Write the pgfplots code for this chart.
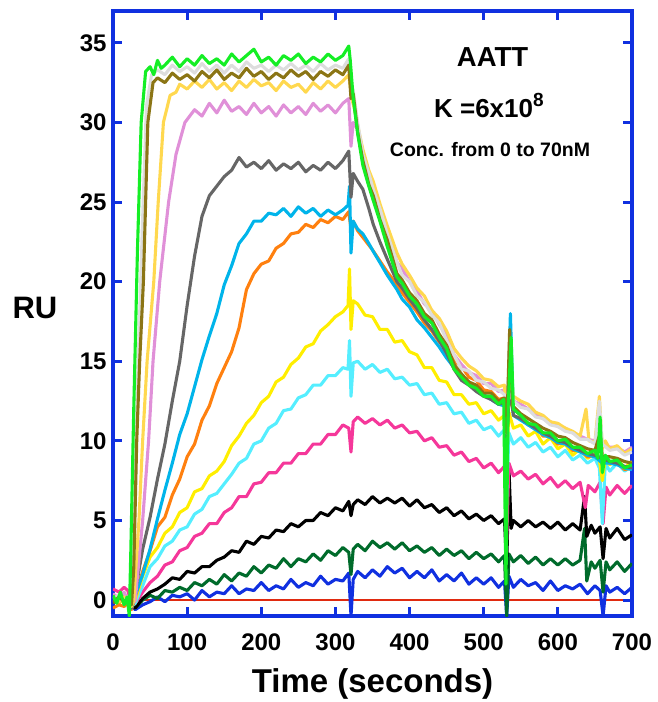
\documentclass[border=0pt]{standalone}
\usepackage{pgfplots}
\pgfplotsset{compat=1.18}
\usepackage{fontspec}
\setmainfont{Liberation Sans}
\definecolor{axblue}{HTML}{1030E0}
\definecolor{cred}{HTML}{E02A10}
\definecolor{cblue}{HTML}{1030E0}
\definecolor{cdkgreen}{HTML}{006B2B}
\definecolor{cpink}{HTML}{F5379A}
\definecolor{ccyan}{HTML}{55EEFF}
\definecolor{cyellow}{HTML}{FFEE00}
\definecolor{corange}{HTML}{FF800F}
\definecolor{csky}{HTML}{00B4EA}
\definecolor{cgray}{HTML}{666666}
\definecolor{cplum}{HTML}{E090D8}
\definecolor{cgold}{HTML}{FFD84F}
\definecolor{clgray}{HTML}{DDDDDD}
\definecolor{colive}{HTML}{8B7515}
\definecolor{cgreen}{HTML}{15EE25}
\begin{document}
\begin{tikzpicture}
\path[use as bounding box] (-113pt,-86pt) rectangle (544pt,616pt);
\begin{axis}[
  at={(0,0)}, anchor=south west,
  scale only axis, width=519pt, height=605pt,
  xmin=0, xmax=700, ymin=-1, ymax=37,
  xtick={0,100,...,700}, ytick={0,5,...,35},
  tick align=inside, major tick length=9pt,
  axis line style={axblue, line width=3.8pt},
  tick style={axblue, line width=3pt},
  tick label style={font=\fontsize{24}{24}\selectfont\bfseries},
  xticklabel style={yshift=-14pt},
  yticklabel style={xshift=-3pt},
  /pgf/number format/assume math mode=true,
  xlabel={Time (seconds)}, ylabel={RU},
  every axis x label/.style={at={(axis description cs:0.5,0)}, anchor=center, yshift=-68pt, font=\fontsize{33}{33}\selectfont\bfseries},
  every axis y label/.style={at={(axis description cs:0,0.5)}, anchor=center, xshift=-78pt, yshift=6pt, font=\fontsize{31}{31}\selectfont\bfseries},
  every axis plot/.append style={line width=3.1pt, line join=round, no markers},
]
% red baseline
\addplot[cred, line width=2.4pt] coordinates {(25,0)(688,0)};
% blue
\addplot[cblue] coordinates {(0,0.1)(8,-0.2)(15,0.3)(20,0.0)(25,-0.4)(30,-0.6)(40,-0.3)(50,-0.1)(60,0.2)(70,-0.1)(80,0.3)(90,0.2)(100,0.4)(110,0.0)(120,0.6)(130,0.2)(140,0.5)(150,0.4)(160,0.9)(170,0.4)(180,0.7)(190,0.6)(200,1.1)(210,0.6)(220,0.9)(230,0.7)(240,1.3)(250,0.8)(260,1.1)(270,0.9)(280,1.5)(290,1.0)(300,1.3)(310,1.2)(318,1.7)(321,-1.0)(324,1.3)(330,1.8)(340,1.4)(350,1.9)(360,1.5)(370,2.1)(380,1.7)(390,2.0)(400,1.4)(410,1.8)(420,1.4)(430,1.9)(440,1.2)(450,1.6)(460,1.2)(470,1.7)(480,1.0)(490,1.4)(500,1.0)(510,1.4)(520,0.8)(528,1.2)(531,-1.0)(534,1.5)(540,0.8)(550,1.3)(560,0.9)(570,1.1)(580,0.6)(590,1.2)(600,0.6)(610,0.9)(620,0.7)(630,1.0)(640,0.4)(650,0.9)(657,0.6)(661,-1.0)(665,0.9)(670,0.5)(680,0.8)(690,0.4)(700,0.8)};
% dark green
\addplot[cdkgreen] coordinates {(0,0.2)(8,-0.2)(15,0.3)(20,0.0)(25,-0.3)(30,-0.5)(40,0.0)(50,0.3)(60,0.1)(70,0.6)(80,0.5)(90,0.8)(100,0.6)(110,1.1)(120,0.9)(130,1.3)(140,1.0)(150,1.6)(160,1.2)(170,1.7)(180,1.5)(190,2.1)(200,1.7)(210,2.2)(220,2.0)(230,2.6)(240,2.1)(250,2.6)(260,2.4)(270,2.9)(280,2.5)(290,3.1)(300,2.8)(310,3.3)(318,3.0)(321,1.6)(324,3.2)(330,3.5)(340,3.1)(350,3.7)(360,3.3)(370,3.6)(380,3.2)(390,3.6)(400,3.1)(410,3.4)(420,3.0)(430,3.3)(440,2.8)(450,3.2)(460,2.8)(470,3.1)(480,2.6)(490,3.0)(500,2.6)(510,2.9)(520,2.4)(528,2.8)(531,-1.0)(534,2.9)(540,2.4)(550,2.8)(560,2.3)(570,2.7)(580,2.2)(590,2.6)(600,2.2)(610,2.6)(620,2.2)(630,2.5)(636,4.5)(639,1.2)(645,2.4)(650,2.0)(657,2.5)(661,0.5)(665,2.4)(670,1.9)(680,2.4)(690,1.8)(700,2.3)};
% black
\addplot[black] coordinates {(0,0.0)(8,0.2)(15,-0.1)(20,0.1)(25,-0.4)(30,-0.5)(40,0.1)(50,0.5)(60,0.7)(70,1.0)(80,1.4)(90,1.3)(100,1.8)(110,1.7)(120,2.1)(130,2.1)(140,2.5)(150,2.7)(160,3.1)(170,3.0)(180,3.7)(190,3.5)(200,4.0)(210,3.9)(220,4.4)(230,4.3)(240,4.8)(250,4.6)(260,5.0)(270,5.0)(280,5.5)(290,5.3)(300,5.8)(310,5.6)(318,6.2)(321,5.3)(324,6.0)(330,6.3)(340,6.0)(350,6.5)(360,6.1)(370,6.4)(380,6.1)(390,6.4)(400,5.9)(410,6.3)(420,5.8)(430,6.0)(440,5.5)(450,5.8)(460,5.3)(470,5.6)(480,5.1)(490,5.4)(500,5.0)(510,5.3)(520,4.8)(528,5.1)(531,2.0)(534,8.3)(537,4.5)(540,5.0)(550,4.6)(560,5.0)(570,4.6)(580,4.9)(590,4.5)(600,4.9)(610,4.4)(620,4.8)(630,4.4)(636,6.5)(639,4.0)(645,4.7)(650,4.2)(657,4.6)(661,2.6)(665,4.5)(670,3.9)(680,4.5)(690,3.8)(700,4.1)};
% pink
\addplot[cpink] coordinates {(0,0.7)(8,0.5)(15,0.8)(20,0.6)(25,-0.3)(30,-0.2)(40,0.5)(50,1.1)(60,1.5)(70,2.2)(80,2.4)(90,3.1)(100,3.3)(110,4.0)(120,4.2)(130,4.8)(140,4.8)(150,5.5)(160,5.8)(170,6.5)(180,6.5)(190,7.3)(200,7.4)(210,8.0)(220,8.0)(230,8.6)(240,8.6)(250,9.2)(260,9.2)(270,9.8)(280,9.8)(290,10.4)(300,10.4)(310,11.0)(318,10.8)(321,9.3)(324,11.2)(330,11.5)(340,11.1)(350,11.4)(360,11.0)(370,11.3)(380,10.8)(390,11.0)(400,10.5)(410,10.6)(420,10.0)(430,10.2)(440,9.6)(450,9.7)(460,9.1)(470,9.3)(480,8.7)(490,8.9)(500,8.3)(510,8.6)(520,8.0)(528,8.4)(531,3.8)(534,8.6)(540,7.8)(550,8.1)(560,7.6)(570,7.9)(580,7.3)(590,7.7)(600,7.1)(610,7.5)(620,7.0)(630,7.4)(637,5.8)(641,7.2)(650,6.8)(657,7.4)(661,4.8)(665,7.1)(670,6.6)(680,7.2)(690,6.7)(700,7.2)};
% cyan
\addplot[ccyan] coordinates {(0,0.3)(8,0.0)(15,0.2)(20,0.1)(25,-0.4)(30,-0.2)(40,0.9)(50,2.1)(60,2.6)(70,3.4)(80,3.7)(90,4.4)(100,4.6)(110,5.4)(120,5.7)(130,6.5)(140,6.7)(150,7.3)(160,7.9)(170,8.6)(180,8.9)(190,9.8)(200,10.0)(210,10.8)(220,11.1)(230,11.9)(240,12.0)(250,12.7)(260,12.9)(270,13.5)(280,13.5)(290,14.1)(300,14.1)(310,14.6)(317,14.5)(319,16.3)(321,12.8)(324,14.9)(330,15.0)(340,14.5)(350,14.8)(360,14.3)(370,14.5)(380,13.9)(390,14.0)(400,13.5)(410,13.6)(420,12.9)(430,13.0)(440,12.3)(450,12.4)(460,11.7)(470,11.8)(480,11.1)(490,11.3)(500,10.7)(510,10.9)(520,10.3)(528,10.7)(531,6.5)(534,10.5)(540,9.8)(550,10.2)(560,9.6)(570,9.9)(580,9.3)(590,9.6)(600,9.0)(610,9.4)(620,8.8)(630,9.1)(640,8.6)(650,8.9)(656,8.3)(660,4.8)(664,8.6)(670,8.1)(680,8.6)(690,8.1)(700,8.4)};
% yellow
\addplot[cyellow] coordinates {(0,0.0)(8,-0.2)(15,0.1)(20,0.2)(25,-0.4)(30,0.0)(40,1.5)(50,2.7)(60,3.3)(70,4.2)(80,4.6)(90,5.5)(100,5.8)(110,6.8)(120,7.0)(130,7.8)(140,8.1)(150,8.7)(160,9.7)(170,10.3)(180,11.1)(190,11.6)(200,12.4)(210,12.8)(220,13.7)(230,14.0)(240,14.8)(250,15.2)(260,15.9)(270,16.1)(280,16.9)(290,17.3)(300,17.8)(310,18.1)(317,18.5)(319,20.8)(321,17.0)(324,18.8)(330,18.6)(340,17.9)(350,17.8)(360,17.0)(370,17.0)(380,16.2)(390,16.3)(400,15.6)(410,15.4)(420,14.6)(430,14.6)(440,13.8)(450,13.7)(460,12.9)(470,12.9)(480,12.3)(490,12.4)(500,11.7)(510,11.9)(520,11.3)(528,11.6)(531,9.0)(534,11.8)(540,10.8)(550,11.0)(560,10.3)(570,10.6)(580,9.8)(590,10.2)(600,9.5)(610,9.8)(620,9.1)(630,9.5)(640,8.9)(650,9.2)(656,8.8)(660,7.5)(664,8.9)(670,8.5)(680,8.9)(690,8.3)(700,8.7)};
% orange
\addplot[corange] coordinates {(0,-0.5)(8,-0.3)(15,-0.4)(20,-0.2)(25,-0.6)(30,0.2)(40,1.8)(50,3.1)(60,4.6)(70,5.2)(80,6.6)(90,7.6)(100,9.0)(110,9.8)(120,11.3)(130,12.2)(140,13.6)(150,14.6)(160,15.6)(170,17.1)(180,19.5)(190,20.5)(200,21.1)(210,21.3)(220,22.1)(230,22.4)(240,23.0)(250,23.1)(260,23.6)(270,23.4)(280,23.9)(290,23.7)(300,24.1)(310,23.9)(318,24.4)(321,23.3)(324,23.8)(330,23.2)(340,22.6)(350,22.0)(360,21.3)(370,20.6)(380,20.0)(390,19.3)(400,18.7)(410,18.1)(420,17.4)(430,16.9)(440,16.2)(450,15.8)(460,15.0)(470,14.7)(480,14.0)(490,13.8)(500,13.2)(510,13.1)(520,12.6)(528,12.7)(531,10.0)(534,12.8)(540,12.0)(550,11.6)(560,11.0)(570,10.9)(580,10.3)(590,10.3)(600,9.8)(610,9.9)(620,9.4)(630,9.4)(640,9.0)(650,9.1)(660,8.7)(670,8.6)(680,8.6)(690,8.2)(700,8.3)};
% sky blue
\addplot[csky] coordinates {(0,0.1)(8,-0.1)(15,0.2)(20,0.0)(25,-0.5)(30,0.3)(40,1.6)(50,3.2)(60,5.1)(70,6.9)(80,8.6)(90,10.4)(100,11.7)(110,13.4)(120,15.1)(130,16.6)(140,18.0)(150,19.8)(160,21.0)(170,22.4)(180,23.0)(190,23.8)(200,23.8)(210,24.3)(220,24.2)(230,24.6)(240,24.1)(250,24.7)(260,24.3)(270,24.6)(280,24.1)(290,24.5)(300,24.2)(310,24.5)(317,24.8)(319,26.0)(321,21.8)(324,23.8)(330,23.3)(337,23.0)(345,22.4)(351,21.9)(360,21.2)(370,20.4)(383,19.5)(390,18.9)(400,18.4)(410,17.6)(420,17.1)(430,16.5)(440,15.9)(450,15.2)(460,14.6)(470,14.1)(480,13.7)(490,13.3)(500,12.9)(510,12.6)(520,12.3)(528,12.2)(531,9.5)(536,18.0)(540,11.6)(550,11.3)(560,11.0)(570,10.7)(580,10.4)(590,10.2)(600,9.9)(610,9.8)(620,9.5)(630,9.3)(640,9.1)(650,9.0)(660,8.6)(670,8.6)(680,8.5)(690,8.3)(700,8.2)};
% gray
\addplot[cgray] coordinates {(0,0.0)(8,0.2)(15,-0.1)(20,0.1)(25,-0.5)(30,0.5)(40,3.2)(50,5.2)(60,7.6)(70,9.8)(80,12.5)(90,15.0)(100,18.5)(110,21.6)(120,24.1)(130,25.4)(140,26.0)(150,26.6)(160,27.0)(170,27.8)(180,27.2)(190,27.5)(200,27.1)(210,27.6)(220,27.0)(230,27.4)(240,27.1)(250,27.5)(260,26.9)(270,27.3)(280,27.0)(290,27.5)(300,27.1)(310,27.6)(318,28.2)(321,25.3)(324,26.8)(330,26.3)(337,25.8)(345,24.6)(351,23.6)(360,22.5)(370,21.4)(383,20.0)(390,19.6)(400,18.9)(410,18.3)(420,17.6)(430,17.0)(440,16.3)(450,15.5)(460,14.5)(470,13.8)(480,13.5)(490,13.1)(500,12.8)(510,12.6)(520,12.3)(528,12.4)(531,10.0)(535,13.5)(540,11.6)(550,11.4)(560,11.1)(570,10.8)(580,10.5)(590,10.3)(600,10.0)(610,9.9)(620,9.6)(630,9.4)(640,9.2)(650,9.1)(660,8.9)(670,8.7)(680,8.6)(690,8.4)(700,8.3)};
% plum
\addplot[cplum] coordinates {(0,0.4)(8,0.1)(15,0.5)(20,0.0)(25,-0.3)(30,0.0)(36,3)(40,5)(48,10)(54,15)(63,20)(75,25)(85,28)(97,30)(110,30.8)(120,30.4)(130,31.2)(140,30.6)(150,31.4)(160,30.7)(170,31.0)(180,30.5)(190,31.2)(200,30.6)(210,31.0)(220,30.4)(230,31.1)(240,30.6)(250,31.0)(260,30.5)(270,31.2)(280,30.7)(290,31.1)(300,30.6)(310,31.2)(318,31.5)(321,28.5)(324,30.0)(330,29.6)(337,27.9)(345,26.9)(351,25.8)(360,24.6)(370,23.2)(383,21.2)(390,20.8)(400,20.0)(410,19.4)(420,18.6)(430,18.2)(440,17.3)(450,16.6)(460,15.4)(470,14.8)(480,14.3)(490,14.1)(500,13.6)(510,13.6)(520,13.1)(528,13.2)(531,11.5)(534,13.0)(540,12.5)(550,12.3)(560,12.0)(570,11.7)(580,11.4)(590,11.2)(600,10.9)(610,10.8)(620,10.5)(630,10.3)(640,10.1)(650,10.0)(660,9.8)(670,9.6)(680,9.6)(690,9.3)(700,9.6)};
% gold
\addplot[cgold] coordinates {(0,0.2)(8,-0.1)(15,0.2)(20,-0.2)(25,-0.4)(28,0.0)(35,5)(40,10)(46,15)(55,20)(61,25)(68,30)(77,31.7)(85,31.9)(90,32.4)(100,32.1)(110,32.6)(120,32.2)(130,32.7)(140,32.1)(150,32.5)(160,32.0)(170,32.6)(180,32.2)(190,32.7)(200,32.3)(210,32.5)(220,32.0)(230,32.6)(240,32.2)(250,32.4)(260,31.9)(270,32.5)(280,32.1)(290,32.6)(300,32.2)(310,32.6)(318,33.0)(322,31.5)(326,30.8)(330,29.8)(337,28.3)(345,27.0)(351,26.3)(360,24.9)(370,23.5)(383,21.8)(390,21.1)(400,20.4)(410,19.6)(420,19.1)(430,18.2)(440,17.7)(450,16.9)(460,15.8)(470,15.2)(480,14.7)(490,14.4)(500,13.9)(510,13.8)(520,13.4)(528,13.5)(531,11.0)(535,14.2)(540,12.8)(550,12.5)(560,12.3)(570,11.8)(580,11.6)(590,11.2)(600,11.1)(610,10.8)(620,10.6)(630,10.3)(638,12.0)(642,10.0)(650,9.9)(656,12.8)(660,9.5)(664,10.0)(670,9.5)(680,9.7)(690,9.2)(700,9.5)};
% light gray
\addplot[clgray] coordinates {(0,0.1)(8,0.3)(15,-0.1)(20,0.2)(25,-0.2)(28,3)(32,12)(36,18)(40,24)(45,31)(52,33.0)(60,33.3)(70,33.0)(80,33.6)(90,33.2)(100,33.5)(110,33.1)(120,33.7)(130,33.2)(140,33.6)(150,33.1)(160,33.6)(170,33.2)(180,33.8)(190,33.4)(200,33.6)(210,33.2)(220,33.6)(230,33.3)(240,33.7)(250,33.3)(260,33.6)(270,33.2)(280,33.7)(290,33.3)(300,33.6)(310,33.4)(318,34.0)(321,32.5)(324,32.0)(330,30.0)(337,28.0)(345,26.8)(351,25.8)(360,24.6)(370,23.0)(383,21.2)(390,20.4)(400,20.0)(410,19.1)(420,18.7)(430,17.9)(440,17.4)(450,16.3)(460,15.4)(470,14.5)(480,14.4)(490,13.8)(500,13.7)(510,13.3)(520,13.2)(528,12.9)(531,10.5)(535,16.5)(540,12.5)(550,12.1)(560,12.0)(570,11.5)(580,11.4)(590,11.0)(600,10.9)(610,10.6)(620,10.5)(630,10.1)(640,10.1)(650,9.8)(656,12.5)(660,9.8)(670,9.4)(680,9.5)(690,9.1)(700,9.3)};
% olive
\addplot[colive] coordinates {(0,-0.2)(8,0.2)(15,-0.1)(20,0.1)(25,-0.3)(28,2)(32,10)(36,15)(41,20)(47,30)(54,32.5)(60,32.8)(70,32.5)(80,33.1)(90,32.7)(100,33.0)(110,32.6)(120,33.2)(130,32.8)(140,33.3)(150,32.7)(160,33.1)(170,32.8)(180,33.4)(190,32.9)(200,33.2)(210,32.7)(220,33.1)(230,32.8)(240,33.3)(250,32.9)(260,33.2)(270,32.7)(280,33.2)(290,32.9)(300,33.3)(310,33.0)(318,33.6)(321,31.5)(324,31.8)(330,29.4)(337,27.6)(345,26.1)(351,25.4)(360,23.9)(370,22.6)(383,20.5)(390,20.1)(400,19.3)(410,18.8)(420,18.0)(430,17.6)(440,16.7)(450,16.0)(460,14.8)(470,14.2)(480,13.7)(490,13.5)(500,13.0)(510,13.0)(520,12.5)(528,12.7)(531,10.5)(535,17.0)(539,12.2)(550,11.7)(560,11.4)(570,11.1)(580,10.8)(590,10.6)(600,10.3)(610,10.2)(620,9.9)(630,9.7)(640,9.5)(650,9.4)(657,10.5)(660,9.0)(670,9.0)(680,8.9)(690,8.7)(700,8.6)};
% green
\addplot[cgreen] coordinates {(0,0.3)(5,-0.2)(10,0.5)(15,-0.3)(19,0.2)(22,-1.0)(24,3.0)(28,12)(33,22)(38,30)(44,33.2)(50,33.5)(55,33.0)(60,33.9)(65,33.4)(70,33.6)(80,34.1)(90,33.5)(100,34.0)(110,33.6)(120,34.2)(130,33.7)(140,34.0)(150,33.6)(160,34.3)(170,33.8)(180,34.2)(190,34.6)(200,33.8)(210,34.1)(220,33.6)(230,34.2)(240,33.9)(250,34.3)(260,33.7)(270,34.1)(280,33.8)(290,34.3)(300,33.9)(310,34.2)(318,34.8)(320,33.9)(324,31.5)(330,29.3)(337,27.3)(345,26.0)(351,25.1)(360,23.8)(370,22.2)(383,20.3)(390,19.9)(400,19.1)(410,18.6)(420,17.8)(430,17.4)(440,16.5)(450,15.8)(460,14.5)(470,14.0)(480,13.5)(490,13.3)(500,12.8)(510,12.8)(520,12.3)(527,12.6)(530,1.0)(533,12.2)(537,16.5)(540,12.0)(550,11.6)(560,11.1)(570,11.0)(580,10.5)(590,10.5)(600,10.0)(610,10.1)(620,9.6)(630,9.6)(640,9.2)(650,9.4)(654,8.9)(657,11.5)(660,8.0)(664,9.1)(670,8.7)(680,8.8)(690,8.3)(700,8.5)};
\node[font=\fontsize{27.5}{27.5}\selectfont\bfseries, anchor=base] at (axis cs:512,33.52) {AATT};
\node[font=\fontsize{26}{26}\selectfont\bfseries, anchor=base] at (axis cs:507,30.28) {K =6x10\raisebox{11pt}{\fontsize{19}{19}\selectfont 8}};
\node[font=\fontsize{19.5}{19.5}\selectfont\bfseries, anchor=base] at (axis cs:508.5,27.87) {Conc. from 0 to 70nM};
\end{axis}
\end{tikzpicture}
\end{document}
